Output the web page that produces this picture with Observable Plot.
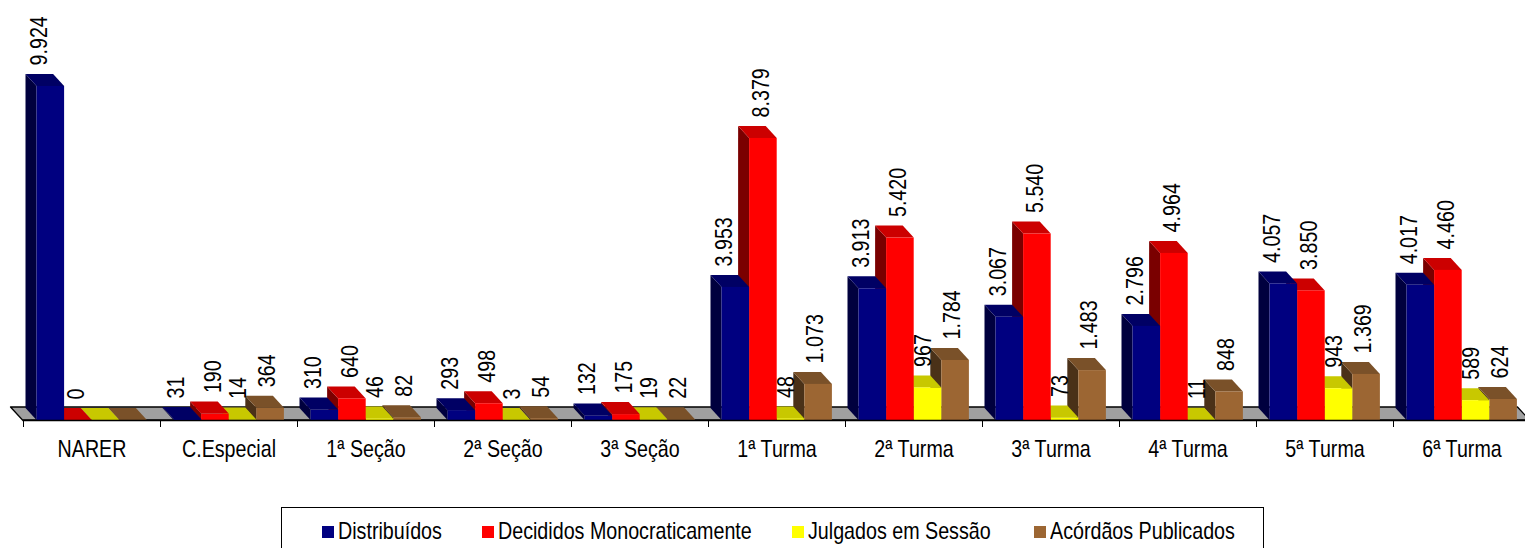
<!DOCTYPE html>
<html>
<head>
<meta charset="utf-8">
<script src="https://cdn.jsdelivr.net/npm/d3@7"></script>
<script src="https://cdn.jsdelivr.net/npm/@observablehq/plot@0.6"></script>
<style>
  body { margin: 0; background: #fff; width: 1525px; height: 548px; overflow: hidden; position: relative; }
  #chart { position: absolute; left: 0; top: 0; }
  .legend {
    position: absolute; left: 281px; top: 507px; width: 983px; height: 60px;
    border: 1px solid #000; box-sizing: border-box;
    font-family: "Liberation Sans", Arial, sans-serif; font-size: 24px; color: #000;
  }
  .legend .sw { position: absolute; top: 18px; width: 12px; height: 12px; }
  .legend .tx { position: absolute; top: 9px; line-height: 28px; white-space: nowrap; transform: scaleX(0.82); transform-origin: 0 50%; }
</style>
</head>
<body>
<div id="chart"></div>
<div class="legend" id="legend"></div>
<script>
const categories = ["NARER", "C.Especial", "1ª Seção", "2ª Seção", "3ª Seção", "1ª Turma", "2ª Turma", "3ª Turma", "4ª Turma", "5ª Turma", "6ª Turma"];
const seriesNames = ["Distribuídos", "Decididos Monocraticamente", "Julgados em Sessão", "Acórdãos Publicados"];
const distribuidos = [9924, 31, 310, 293, 132, 3953, 3913, 3067, 2796, 4057, 4017];
const decididos    = [0, 190, 640, 498, 175, 8379, 5420, 5540, 4964, 3850, 4460];
const julgados     = [null, 14, 46, 3, 19, 48, 967, 73, 11, 943, 589];
const acordaos     = [null, 364, 82, 54, 22, 1073, 1784, 1483, 848, 1369, 624];

const seriesValues = [distribuidos, decididos, julgados, acordaos];
const colors = [
  {front: "#000080", side: "#00003e", top: "#000064"},
  {front: "#ff0000", side: "#7a0000", top: "#cc0000"},
  {front: "#ffff00", side: "#7a7a00", top: "#c8c800"},
  {front: "#9c6633", side: "#4a3118", top: "#7a5129"}
];

const FONT = '"Liberation Sans", Arial, sans-serif';
const NARROW = 0.82;                          // horizontal condensing (Arial Narrow look)
const BAR_OFF = 13.5, BAR_W = 27.6;           // bar layout inside each band (px)
const DEPTH_X = -11, DEPTH_Y = -12;           // oblique depth of bars
const FLOOR_X = -12, FLOOR_Y = -13;           // oblique depth of floor
const labelShift = [-11, -2, -5, -3];
const legendSwatchX = [40, 200, 510, 752];    // legend layout (px inside box)

const fmt = d3.formatLocale({decimal: ",", thousands: ".", grouping: [3], currency: ["", ""]}).format(",d");

const rows = seriesValues.map((vals, s) =>
  categories.map((c, i) => ({cat: c, series: seriesNames[s], s, v: vals[i]})));

function floorMark(index, scales) {
  const {x, y} = scales;
  const r = x.range();
  const x0 = r[0], x1 = r[1], y0 = y(0);
  const g = d3.create("svg:g");
  g.append("path")
    .attr("d", `M${x0},${y0}L${x1},${y0}L${x1 + FLOOR_X},${y0 + FLOOR_Y}L${x0 + FLOOR_X},${y0 + FLOOR_Y}Z`)
    .attr("fill", "#a0a0a0").attr("stroke", "#000").attr("stroke-width", 1.3).attr("stroke-linejoin", "round");
  return g.node();
}

function facesMark(s) {
  return (index, scales) => {
    const {x, y} = scales;
    const g = d3.create("svg:g");
    const data = rows[s];
    for (let i = data.length - 1; i >= 0; --i) {
      const d = data[i];
      const v = d.v ?? 0;
      const L = x(d.cat) + BAR_OFF + BAR_W * s;
      const R = L + BAR_W;
      const yt = y(v), yb = y(0);
      g.append("path")
        .attr("d", `M${L},${yb}L${L},${yt}L${L + DEPTH_X},${yt + DEPTH_Y}L${L + DEPTH_X},${yb + DEPTH_Y}Z`)
        .attr("fill", colors[s].side);
      g.append("path")
        .attr("d", `M${L},${yt}L${R},${yt}L${R + DEPTH_X},${yt + DEPTH_Y}L${L + DEPTH_X},${yt + DEPTH_Y}Z`)
        .attr("fill", colors[s].top);
    }
    return g.node();
  };
}

const STEP = (1529.5 - 22.5) / categories.length;

const marks = [floorMark];
for (let s = 3; s >= 0; --s) {
  marks.push(facesMark(s));
  marks.push(Plot.barY(rows[s], {
    x: "cat", y: "v", fill: colors[s].front,
    insetLeft: BAR_OFF + BAR_W * s,
    insetRight: STEP - (BAR_OFF + BAR_W * (s + 1))
  }));
}
marks.push(Plot.ruleY([0], {stroke: "#000", strokeWidth: 1.3}));
for (let s = 0; s < 4; ++s) {
  marks.push(Plot.text(rows[s].filter(d => d.v != null), {
    x: "cat", y: "v", text: d => fmt(d.v),
    rotate: -90, textAnchor: "start", lineAnchor: "middle",
    dx: BAR_OFF + BAR_W * s + BAR_W / 2 - STEP / 2 + labelShift[s],
    dy: -21, fontSize: 24, fontFamily: FONT, fill: "#000"
  }));
}
marks.push(Plot.axisX({tickSize: 7, tickFormat: () => "", dx: -STEP / 2, stroke: "#000", label: null}));
marks.push(Plot.axisX({tickSize: 0, tickPadding: 19, fontSize: 24, fontFamily: FONT, fill: "#000", label: null}));

const chart = Plot.plot({
  width: 1525, height: 490,
  marginLeft: 22.5, marginRight: 0, marginTop: 0, marginBottom: 70,
  style: {background: "#fff", fontFamily: FONT, overflow: "visible"},
  x: {domain: categories, range: [22.5, 1529.5], padding: 0, axis: null, label: null},
  y: {domain: [0, 10000], range: [420, 83.4], axis: null},
  marks
});

// condense glyphs along each text's own direction (Arial Narrow look)
chart.querySelectorAll("text").forEach(t => {
  const tr = t.getAttribute("transform") || "";
  t.setAttribute("transform", `${tr} scale(${NARROW},1)`.trim());
});
document.getElementById("chart").appendChild(chart);

const legend = document.getElementById("legend");
seriesNames.forEach((n, s) => {
  const sw = document.createElement("span");
  sw.className = "sw";
  sw.style.left = legendSwatchX[s] + "px";
  sw.style.background = colors[s].front;
  const tx = document.createElement("span");
  tx.className = "tx";
  tx.style.left = (legendSwatchX[s] + 16) + "px";
  tx.textContent = n;
  legend.appendChild(sw);
  legend.appendChild(tx);
});
</script>
</body>
</html>
